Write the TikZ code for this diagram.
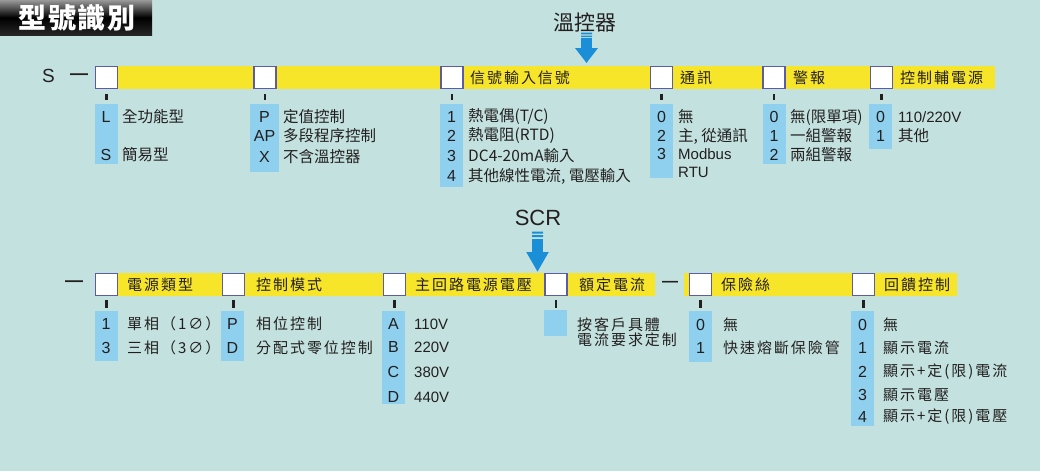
\documentclass[tikz,border=0pt]{standalone}
\usepackage{fontspec}
\setmainfont{Liberation Sans}
\newfontfamily\cjk{Noto Sans CJK TC}
\newfontfamily\cjkw[LetterSpace=13]{Noto Sans CJK TC}
\newfontfamily\cjkt[LetterSpace=6]{Noto Sans CJK TC}
\usetikzlibrary{arrows.meta,positioning}
\definecolor{bgteal}{HTML}{C3E2DF}
\definecolor{baryellow}{HTML}{F7E52A}
\definecolor{optblue}{HTML}{8ED0EE}
\definecolor{boxline}{HTML}{5B5BA6}
\definecolor{arrowblue}{HTML}{1A8ED6}
\definecolor{ink}{HTML}{231F20}
\tikzset{
  selbox/.style={draw=boxline,fill=white,line width=1.2pt,minimum size=22pt,inner sep=0pt},
  optcol/.style={fill=optblue,minimum width=23pt,inner sep=0pt,anchor=north},
  key/.style={font=\fontsize{16}{16}\selectfont,text=ink,inner sep=0pt},
  latin/.style={font=\fontsize{15}{15}\selectfont,text=ink,anchor=west,inner sep=0pt},
  item/.style={font=\cjk\fontsize{15.5}{15.5}\selectfont,text=ink,anchor=west,inner sep=0pt},
  itemw/.style={font=\cjkw\fontsize{15}{15}\selectfont,text=ink,anchor=west,inner sep=0pt},
  dashmark/.style={font=\bfseries\fontsize{18}{18}\selectfont,text=ink,inner sep=0pt},
  tick/.style={draw=ink,line width=2.2pt},
  bigarrow/.style={draw=arrowblue,line width=11pt,-{Triangle[width=22pt,length=15pt]}}
}
\begin{document}
\begin{tikzpicture}[x=1pt,y=-1pt]
 \fill[bgteal] (0,0) rectangle (1040,471);
 \useasboundingbox (0,0) rectangle (1040,471);
 % title
 \shade[top color=black!40,bottom color=black!85,middle color=black] (0,0) rectangle (152,35);
 \node[font=\cjkt\bfseries\fontsize{28}{28}\selectfont,text=white] (title) at (77,18) {型號識別};

 % temperature controller row
 \fill[baryellow] (118,66) rectangle (995,89);
 \node[font=\fontsize{19}{19}\selectfont,text=ink] (s) at (48.5,76) {S};
 \node[dashmark] (dashA) at (79,77) {—};
 \foreach \n/\x in {tA/106.5,tB/265,tC/452,tD/661.5,tE/774,tF/881.5}{
   \node[selbox] (\n) at (\x,77.5) {};
   \draw[tick] ([yshift=-5pt]\n.south) -- ++(0,6);
 }
 \node[itemw] (tCl) at (470,78) {信號輸入信號};
 \node[itemw] (tDl) at (680,78) {通訊};
 \node[itemw] (tEl) at (793,78) {警報};
 \node[itemw] (tFl) at (900,78) {控制輔電源};

 \node[font=\cjk\fontsize{21}{21}\selectfont,text=ink] (ctl) at (585,22) {溫控器};
 \fill[arrowblue] (581,32.5) rectangle (592,34.3) (581,35.6) rectangle (592,37.2);
 \coordinate (ctlTop) at (586.5,38);
 \coordinate (ctlTip) at (586.5,63);
 \draw[bigarrow] (ctlTop) -- (ctlTip);

 \node[optcol,minimum height=60pt] (tAo) at (106,104) {};
 \node[optcol,minimum width=29pt,minimum height=68pt] (tBo) at (264.5,104) {};
 \node[optcol,minimum height=83pt] (tCo) at (451.5,104) {};
 \node[optcol,minimum height=74pt] (tDo) at (661.5,104) {};
 \node[optcol,minimum height=60pt] (tEo) at (774,104) {};
 \node[optcol,minimum height=45pt] (tFo) at (880.5,104) {};

 \foreach \y/\k/\t [count=\i] in {117/L/全功能型,155/S/簡易型}{
   \node[key] (tAk\i) at (106,\y) {\k};
   \node[item] (tAt\i) at (122,\y) {\t};
 }
 \foreach \y/\k/\t [count=\i] in {117/P/定值控制,136/AP/多段程序控制,157/X/不含溫控器}{
   \node[key] (tBk\i) at (264.5,\y) {\k};
   \node[item] (tBt\i) at (283,\y) {\t};
 }
 \foreach \y/\k/\t [count=\i] in {117/1/{熱電偶(T/C)},136/2/{熱電阻(RTD)},156/3/{DC4-20mA輸入},176/4/{其他線性電流, 電壓輸入}}{
   \node[key] (tCk\i) at (451.5,\y) {\k};
   \node[item] (tCt\i) at (468,\y) {\t};
 }
 \foreach \y/\k/\t [count=\i] in {117/0/無,136/2/{主, 從通訊}}{
   \node[key] (tDk\i) at (661.5,\y) {\k};
   \node[item] (tDt\i) at (678,\y) {\t};
 }
 \node[key] (tDk3) at (661.5,154) {3};
 \node[latin] (tDt3) at (678,154) {Modbus};
 \node[latin] (tDt4) at (678,172) {RTU};
 \foreach \y/\k/\t [count=\i] in {117/0/無(限單項),136/1/一組警報,155/2/兩組警報}{
   \node[key] (tEk\i) at (774,\y) {\k};
   \node[item] (tEt\i) at (790,\y) {\t};
 }
 \node[key] (tFk1) at (880.5,117) {0};
 \node[latin] (tFt1) at (898,117) {110/220V};
 \node[key] (tFk2) at (880.5,136) {1};
 \node[item] (tFt2) at (898,136) {其他};

 % SCR row
 \fill[baryellow] (118,273) rectangle (655,296) (684,273) rectangle (957,296);
 \node[dashmark] (dashB) at (74,284) {—};
 \node[dashmark,font=\bfseries\fontsize{16}{16}\selectfont] (dashC) at (670,284) {—};
 \foreach \n/\x in {bA/106.5,bB/233.5,bC/394.5,bD/556,bE/700.5,bF/863.5}{
   \node[selbox] (\n) at (\x,284.5) {};
   \draw[tick] ([yshift=-4pt]\n.south) -- ++(0,8);
 }
 \node[itemw] (bAl) at (127,285) {電源類型};
 \node[itemw] (bBl) at (256,285) {控制模式};
 \node[itemw] (bCl) at (415,285) {主回路電源電壓};
 \node[itemw] (bDl) at (579,285) {額定電流};
 \node[itemw] (bEl) at (721,285) {保險絲};
 \node[itemw] (bFl) at (884,285) {回饋控制};

 \node[font=\fontsize{22}{22}\selectfont,text=ink] (scr) at (538,218) {SCR};
 \fill[arrowblue] (532,231.5) rectangle (543,233.5) (532,235) rectangle (543,237);
 \coordinate (scrTop) at (537.5,239);
 \coordinate (scrTip) at (537.5,272);
 \draw[bigarrow,-{Triangle[width=21pt,length=20pt]}] (scrTop) -- (scrTip);

 \node[optcol,minimum height=50pt] (bAo) at (106,311) {};
 \node[optcol,minimum height=50pt] (bBo) at (232.5,311) {};
 \node[optcol,minimum height=93pt] (bCo) at (393.5,311) {};
 \node[optcol,minimum height=26pt] (bDo) at (555.5,310) {};
 \node[optcol,minimum height=51pt] (bEo) at (700.5,311) {};
 \node[optcol,minimum height=115pt] (bFo) at (862.5,311) {};

 \foreach \y/\k/\t [count=\i] in {324/1/單相（1∅）,348/3/三相（3∅）}{
   \node[key] (bAk\i) at (106,\y) {\k};
   \node[itemw] (bAt\i) at (127,\y) {\t};
 }
 \foreach \y/\k/\t [count=\i] in {324/P/相位控制,348/D/分配式零位控制}{
   \node[key] (bBk\i) at (232.5,\y) {\k};
   \node[itemw] (bBt\i) at (256,\y) {\t};
 }
 \foreach \y/\k/\t [count=\i] in {324/A/110V,347/B/220V,372/C/380V,397/D/440V}{
   \node[key] (bCk\i) at (393.5,\y) {\k};
   \node[latin] (bCt\i) at (414,\y) {\t};
 }
 \node[itemw] (bDt1) at (577,325) {按客戶具體};
 \node[itemw] (bDt2) at (577,340) {電流要求定制};
 \foreach \y/\k/\t [count=\i] in {325/0/無,348/1/快速熔斷保險管}{
   \node[key] (bEk\i) at (700.5,\y) {\k};
   \node[itemw] (bEt\i) at (723,\y) {\t};
 }
 \foreach \y/\k/\t [count=\i] in {325/0/無,348/1/顯示電流,372/2/顯示+定(限)電流,395/3/顯示電壓,417/4/顯示+定(限)電壓}{
   \node[key] (bFk\i) at (862.5,\y) {\k};
   \node[itemw] (bFt\i) at (883,\y) {\t};
 }
\end{tikzpicture}
\end{document}
